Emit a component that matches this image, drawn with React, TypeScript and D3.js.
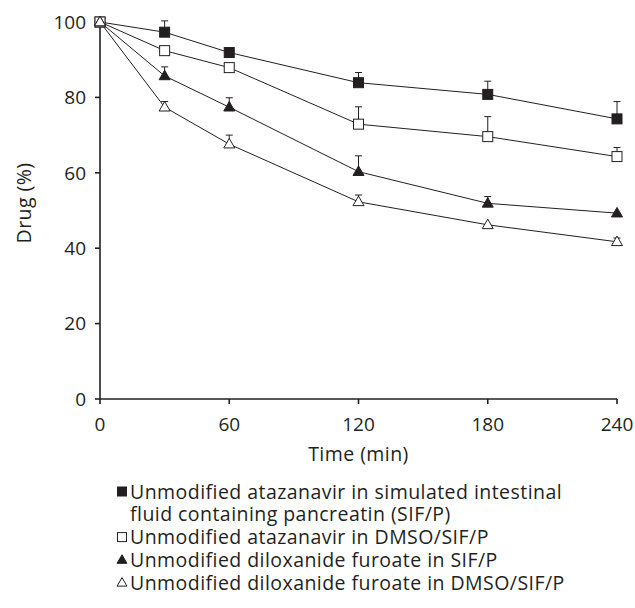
import React from "react";
import * as d3 from "d3";

const times = [0, 30, 60, 120, 180, 240];
const seriesNames = [
  ["Unmodified atazanavir in simulated intestinal", "fluid containing pancreatin (SIF/P)"],
  ["Unmodified atazanavir in DMSO/SIF/P"],
  ["Unmodified diloxanide furoate in SIF/P"],
  ["Unmodified diloxanide furoate in DMSO/SIF/P"],
];
const markerTypes = ["squareFilled", "squareOpen", "triangleFilled", "triangleOpen"];
const atazanavirSIF = [100, 97.3, 91.9, 83.9, 80.8, 74.3];
const atazanavirSIFErr = [0, 3.0, 0.8, 2.7, 3.5, 4.6];
const atazanavirDMSO = [100, 92.4, 87.9, 72.9, 69.6, 64.3];
const atazanavirDMSOErr = [0, 0, 0, 4.6, 5.3, 2.4];
const diloxanideSIF = [100, 85.7, 77.4, 60.3, 51.9, 49.3];
const diloxanideSIFErr = [0, 2.4, 2.5, 4.2, 1.8, 0];
const diloxanideDMSO = [100, 77.4, 67.6, 52.3, 46.2, 41.7];
const diloxanideDMSOErr = [0, 1.5, 2.4, 1.8, 0, 1.0];
const xTicks = [0, 60, 120, 180, 240];
const yTicks = [0, 20, 40, 60, 80, 100];

const seriesValues = [atazanavirSIF, atazanavirDMSO, diloxanideSIF, diloxanideDMSO];
const seriesErrors = [atazanavirSIFErr, atazanavirDMSOErr, diloxanideSIFErr, diloxanideDMSOErr];

const INK = "#231f20";
const FONT = "'Open Sans', 'Noto Sans', sans-serif";
const FS = 19;
const FS_TEXT = 19.5;
const LS = 0.45;

function Marker({ type, x, y, s }: { type: string; x: number; y: number; s: number }) {
  const filled = type.endsWith("Filled");
  const fill = filled ? INK : "#fff";
  if (type.startsWith("square")) {
    return (
      <rect x={x - s / 2} y={y - s / 2} width={s} height={s} fill={fill} stroke={INK} strokeWidth={1} />
    );
  }
  const h = s * 0.95;
  const w = s * 1.1;
  const p = `M${x},${y - h * 0.6} L${x + w / 2},${y + h * 0.4} L${x - w / 2},${y + h * 0.4} Z`;
  return <path d={p} fill={fill} stroke={INK} strokeWidth={1} strokeLinejoin="miter" />;
}

export default function App() {
  const x = d3.scaleLinear().domain([0, 240]).range([100, 617]);
  const y = d3.scaleLinear().domain([0, 100]).range([399, 22]);
  const line = d3
    .line<number>()
    .x((_, i) => x(times[i]))
    .y((d) => y(d));

  const legendBase = 498.5;
  const legendStep = 22.8;

  return (
    <svg width={635} height={608} style={{ position: "absolute", left: 0, top: 0, background: "#fff" }} fontFamily={FONT}>
      <rect width={635} height={608} fill="#fff" />
      {/* axes */}
      <line x1={x(0)} x2={x(0)} y1={y(100) - 1} y2={y(0)} stroke={INK} strokeWidth={1.6} />
      <line x1={x(0)} x2={x(240)} y1={y(0)} y2={y(0)} stroke={INK} strokeWidth={1.6} />
      {yTicks.map((t) => (
        <g key={"y" + t}>
          <line x1={x(0) - 5} x2={x(0)} y1={y(t)} y2={y(t)} stroke={INK} strokeWidth={1.6} />
          <text x={x(0) - 14} y={y(t)} dy="0.36em" textAnchor="end" fontSize={FS} fill={INK}>
            {t}
          </text>
        </g>
      ))}
      {xTicks.map((t) => (
        <g key={"x" + t}>
          <line x1={x(t)} x2={x(t)} y1={y(0)} y2={y(0) + 5} stroke={INK} strokeWidth={1.6} />
          <text x={x(t)} y={431} textAnchor="middle" fontSize={FS} fill={INK}>
            {t}
          </text>
        </g>
      ))}
      <text x={x(120)} y={461} textAnchor="middle" fontSize={FS_TEXT} letterSpacing={LS} fill={INK}>
        Time (min)
      </text>
      <text transform={`translate(31,203) rotate(-90)`} textAnchor="middle" fontSize={FS_TEXT} letterSpacing={LS} fill={INK}>
        Drug (%)
      </text>
      {/* lines */}
      {seriesValues.map((vals, si) => (
        <path key={"l" + si} d={line(vals) || ""} fill="none" stroke={INK} strokeWidth={1} />
      ))}
      {/* error bars */}
      {seriesValues.map((vals, si) =>
        vals.map((v, i) =>
          seriesErrors[si][i] > 0 ? (
            <g key={`e${si}-${i}`}>
              <line x1={x(times[i])} x2={x(times[i])} y1={y(v)} y2={y(v + seriesErrors[si][i])} stroke={INK} strokeWidth={1} />
              <line
                x1={x(times[i]) - 3.5}
                x2={x(times[i]) + 3.5}
                y1={y(v + seriesErrors[si][i])}
                y2={y(v + seriesErrors[si][i])}
                stroke={INK}
                strokeWidth={1}
              />
            </g>
          ) : null
        )
      )}
      {/* markers */}
      {seriesValues.map((vals, si) =>
        vals.map((v, i) => <Marker key={`m${si}-${i}`} type={markerTypes[si]} x={x(times[i])} y={y(v)} s={10} />)
      )}
      {/* legend */}
      {(() => {
        const items: JSX.Element[] = [];
        let row = 0;
        seriesNames.forEach((lines, si) => {
          const base = legendBase + row * legendStep;
          items.push(<Marker key={"lm" + si} type={markerTypes[si]} x={122} y={base - 7} s={9} />);
          lines.forEach((txt, li) => {
            items.push(
              <text key={`lt${si}-${li}`} x={130} y={base + li * legendStep} fontSize={FS_TEXT} letterSpacing={LS} fill={INK}>
                {txt}
              </text>
            );
          });
          row += lines.length;
        });
        return items;
      })()}
    </svg>
  );
}
